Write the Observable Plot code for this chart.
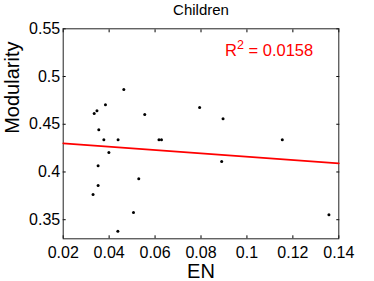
<!DOCTYPE html>
<html><head><meta charset="utf-8">
<script src="https://cdn.jsdelivr.net/npm/d3@7"></script>
<script src="https://cdn.jsdelivr.net/npm/@observablehq/plot@0.6"></script>
<style>body{margin:0;background:#fff;} svg{display:block;}</style>
</head><body><div id="chart"></div>
<script>
const title = "Children";
const xLabel = "EN";
const yLabel = "Modularity";
const en = [0.0464,0.0384,0.0347,0.0335,0.0355,0.0377,0.0439,0.0399,0.0352,0.0352,0.0330,0.0506,0.0438,0.0555,0.0617,0.0628,0.0529,0.0794,0.0896,0.0890,0.1154,0.1357];
const modularity = [0.4864,0.4704,0.4641,0.4613,0.4442,0.4337,0.4337,0.4204,0.4065,0.3858,0.3764,0.3575,0.3380,0.4602,0.4337,0.4337,0.3929,0.4676,0.4557,0.4110,0.4337,0.3551];
const fitEN = [0.02, 0.14];
const fitModularity = [0.4300, 0.4090];
const xTicks = [0.02,0.04,0.06,0.08,0.1,0.12,0.14];
const xTickLabels = ["0.02","0.04","0.06","0.08","0.1","0.12","0.14"];
const yTicks = [0.35,0.4,0.45,0.5,0.55];
const yTickLabels = ["0.35","0.4","0.45","0.5","0.55"];
const r2Parts = ["R", "2", " = 0.0158"];

const points = en.map((x,i)=>({x, y: modularity[i]}));
const fit = fitEN.map((x,i)=>({x, y: fitModularity[i]}));
const font = "'Liberation Sans', Arial, Helvetica, sans-serif";

const chart = Plot.plot({
  width: 374, height: 281,
  marginLeft: 62.7, marginRight: 35.7, marginTop: 28.3, marginBottom: 42.7,
  style: {fontFamily: font, fontSize: "16px", color: "#000", background: "#fff", overflow: "visible"},
  x: {domain: [0.02, 0.14]},
  y: {domain: [0.33, 0.55]},
  marks: [
    Plot.axisX(xTicks, {anchor: "bottom", tickSize: -3, tickPadding: 11, tickFormat: d => xTickLabels[xTicks.indexOf(d)], label: null, fontSize: 16, color: "#000"}),
    Plot.axisX(xTicks, {anchor: "top", tickSize: -3, tickFormat: () => "", label: null, color: "#000"}),
    Plot.axisY(yTicks, {anchor: "left", tickSize: -3, tickPadding: 6, tickFormat: d => yTickLabels[yTicks.indexOf(d)], label: null, fontSize: 16, color: "#000"}),
    Plot.axisY(yTicks, {anchor: "right", tickSize: -3, tickFormat: () => "", label: null, color: "#000"}),
    Plot.frame({stroke: "#222", strokeWidth: 1}),
    Plot.line(fit, {x: "x", y: "y", stroke: "#ff0000", strokeWidth: 1.6}),
    Plot.dot(points, {x: "x", y: "y", r: 1.5, fill: "#000", stroke: "none"}),
    Plot.text([title], {text: d => d, frameAnchor: "top", lineAnchor: "bottom", dy: -13.3, fontSize: 15, fill: "#000"}),
    Plot.text([xLabel], {text: d => d, frameAnchor: "bottom", lineAnchor: "bottom", dy: 38.7, fontSize: 20, fill: "#000"}),
    Plot.text([yLabel], {text: d => d, frameAnchor: "left", lineAnchor: "bottom", rotate: -90, dx: -44.7, fontSize: 20, fill: "#000"}),
    Plot.text([r2Parts.join("")], {text: d => d, frameAnchor: "top-right", textAnchor: "end", lineAnchor: "bottom", dx: -25.6, dy: 27.2, fontSize: 16.5, fill: "#ff0000", className: "r2"})
  ]
});
document.getElementById("chart").appendChild(chart);

// superscript formatting of the R² annotation
const ns = "http://www.w3.org/2000/svg";
const t = chart.querySelector(".r2 text");
if (t) {
  t.textContent = "";
  const a = document.createElementNS(ns, "tspan"); a.textContent = r2Parts[0];
  const b = document.createElementNS(ns, "tspan"); b.textContent = r2Parts[1];
  b.setAttribute("dy", "-7"); b.setAttribute("font-size", "12.5");
  const c = document.createElementNS(ns, "tspan"); c.textContent = r2Parts[2];
  c.setAttribute("dy", "7");
  t.append(a, b, c);
}
</script>
</body></html>
